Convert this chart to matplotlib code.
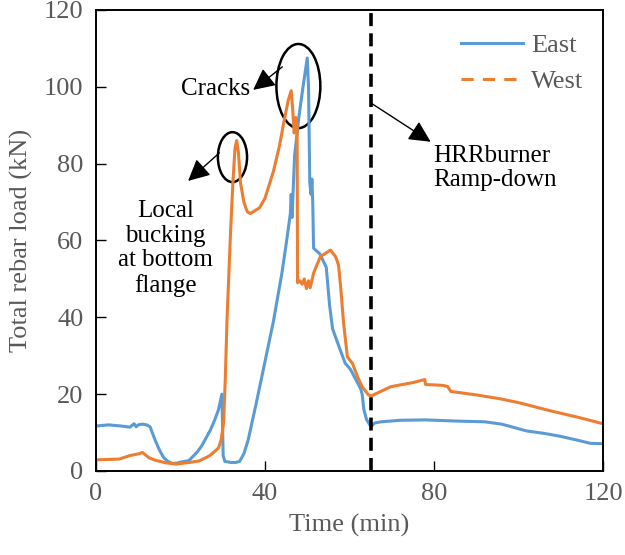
import matplotlib
matplotlib.use("Agg")
import matplotlib.pyplot as plt
from matplotlib.patches import Ellipse

# ---- data ----
east_t = [0, 3, 6, 8, 9, 9.5, 10, 11, 12, 12.8, 14, 15, 16, 17, 18, 19, 20, 22, 24, 25, 26, 27,
          28, 29, 29.8, 30.1, 30.5, 32, 33, 34, 35, 36, 37, 38, 40, 42, 44, 45, 46, 46.2, 46.4,
          47, 48, 49, 50, 50.3, 50.6, 50.9, 51.1, 51.3, 51.5, 53, 54.5, 55.3, 56, 57.8, 59,
          60.2, 61.4, 62.6, 63, 63.4, 64, 64.8, 65.3, 66, 67.5, 72, 78, 85, 92, 96, 100, 102,
          106, 110, 114, 117, 120]
east_v = [11.7, 12, 11.7, 11.4, 12.3, 11.5, 12, 12.2, 12, 11.5, 8, 5.5, 3.5, 2.5, 2, 2, 2.3, 2.7,
          5, 6.5, 8.5, 10.5, 13, 16, 20, 4, 2.5, 2.2, 2.2, 2.5, 4.5, 8, 13, 18, 28.5, 39, 51.5,
          59, 67, 72, 66, 82, 92, 100, 107.5, 100, 75, 72, 76, 70, 58, 56.5, 53, 43, 37, 31.5,
          28, 26.5, 24, 21.5, 20, 16, 13.5, 12, 11.8, 12.5, 12.8, 13.2, 13.3, 13, 12.8, 12.2,
          11, 10.4, 9.8, 9, 8, 7.2, 7.1]

west_t = [0, 3, 5.5, 8, 10.2, 11, 12.6, 14, 16.6, 19, 22, 24.4, 26.8, 28, 29, 29.6, 30.2, 30.6,
          31, 31.8, 32.4, 32.9, 33.3, 33.7, 34.2, 35, 35.8, 36.5, 38.7, 40, 42, 43.4, 44.5,
          45.5, 46.2, 46.5, 46.9, 47.3, 47.6, 47.7, 48.3, 48.8, 49.3, 49.8, 50.3, 50.7, 51.5,
          53.1, 55.5, 56.7, 57.4, 57.9, 58.6, 59.5, 60.7, 61.9, 63, 64.5, 65.1, 69.7, 72, 75,
          77.8, 78, 82, 83.2, 84, 90, 95.6, 100, 107.4, 114, 120]
west_v = [2.9, 3, 3.1, 4, 4.5, 4.8, 3.4, 2.8, 2.1, 1.8, 2.2, 2.6, 3.9, 5, 6, 8, 12.5, 24, 39, 61,
          75, 84, 86, 83, 75, 70, 67.5, 67, 68.5, 71, 78, 84.5, 91, 96.5, 99, 95, 88, 92, 90,
          49, 49.5, 48.6, 50, 47.5, 49.5, 47.7, 51.5, 55.8, 57.5, 55.8, 53.6, 48, 38.5, 29.7,
          28, 24.5, 21.9, 19.8, 19.5, 21.9, 22.4, 23, 23.8, 22.5, 22.3, 22, 20.7, 19.8, 18.8,
          17.8, 15.7, 14, 12.3]

x_ticks = [0, 40, 80, 120]
y_ticks = [0, 20, 40, 60, 80, 100, 120]
rampdown_time = 65

BLUE = "#5B9BD5"
ORANGE = "#ED7D31"
GRAY = "#595959"

plt.rcParams['font.family'] = ['Liberation Serif', 'DejaVu Serif']

fig = plt.figure(figsize=(6.25, 5.55), dpi=100)
ax = fig.add_axes([0.1536, 0.1514, 0.8112, 0.8306])

ax.plot(east_t, east_v, color=BLUE, lw=2.2, label="East")
ax.plot(west_t, west_v, color=ORANGE, lw=2.2)
# legend handle for West is dashed
ax.plot([], [], color=ORANGE, lw=2.2, ls=(0, (4.0, 3.0)), label="West")

ax.axvline(rampdown_time, color="black", lw=2.6, ls=(0, (3.6, 2.0)))

ax.set_xlim(0, 120)
ax.set_ylim(0, 120)
ax.set_xticks(x_ticks)
ax.set_yticks(y_ticks)
ax.tick_params(direction="in", length=7, width=1, labelsize=19, labelcolor=GRAY, pad=9)
for s in ax.spines.values():
    s.set_linewidth(1.4)
    s.set_color("black")

ax.set_xlabel("Time (min)", fontsize=19, color=GRAY, labelpad=6)
ax.set_ylabel("Total rebar load (kN)", fontsize=19, color=GRAY, labelpad=8)

leg = ax.legend(loc="upper left", bbox_to_anchor=(0.72, 0.948), frameon=False, fontsize=19,
                handlelength=2.35, labelspacing=0.45, handletextpad=0.3,
                borderpad=0, borderaxespad=0)
for t in leg.get_texts():
    t.set_color(GRAY)

# ellipses
ax.add_patch(Ellipse((32.3, 81.7), 6.9, 13.0, fill=False, ec="black", lw=1.8))
ax.add_patch(Ellipse((47.9, 100.2), 10.4, 21.9, fill=False, ec="black", lw=1.8))

arrow = dict(arrowstyle="-|>,head_length=0.6,head_width=0.3", color="black", lw=1.0,
             mutation_scale=22, shrinkA=0, shrinkB=0)
ax.annotate("", xy=(21.8, 75.5), xytext=(29.2, 82.8), arrowprops=arrow)
ax.annotate("", xy=(37.2, 99.2), xytext=(44.1, 105.2), arrowprops=arrow)
ax.annotate("", xy=(79.2, 85.7), xytext=(65.2, 95.7), arrowprops=arrow)

ax.text(28.2, 99.4, "Cracks", fontsize=18, ha="center", va="center", color="black")
ax.text(16.4, 57.9, "Local\nbucking\nat bottom\nflange", fontsize=18, ha="center", va="center",
        color="black", linespacing=1.15)
ax.text(79.9, 78.9, "HRRburner\nRamp-down", fontsize=18, ha="left", va="center", color="black",
        linespacing=1.15)

fig.savefig("out.png", dpi=100)
